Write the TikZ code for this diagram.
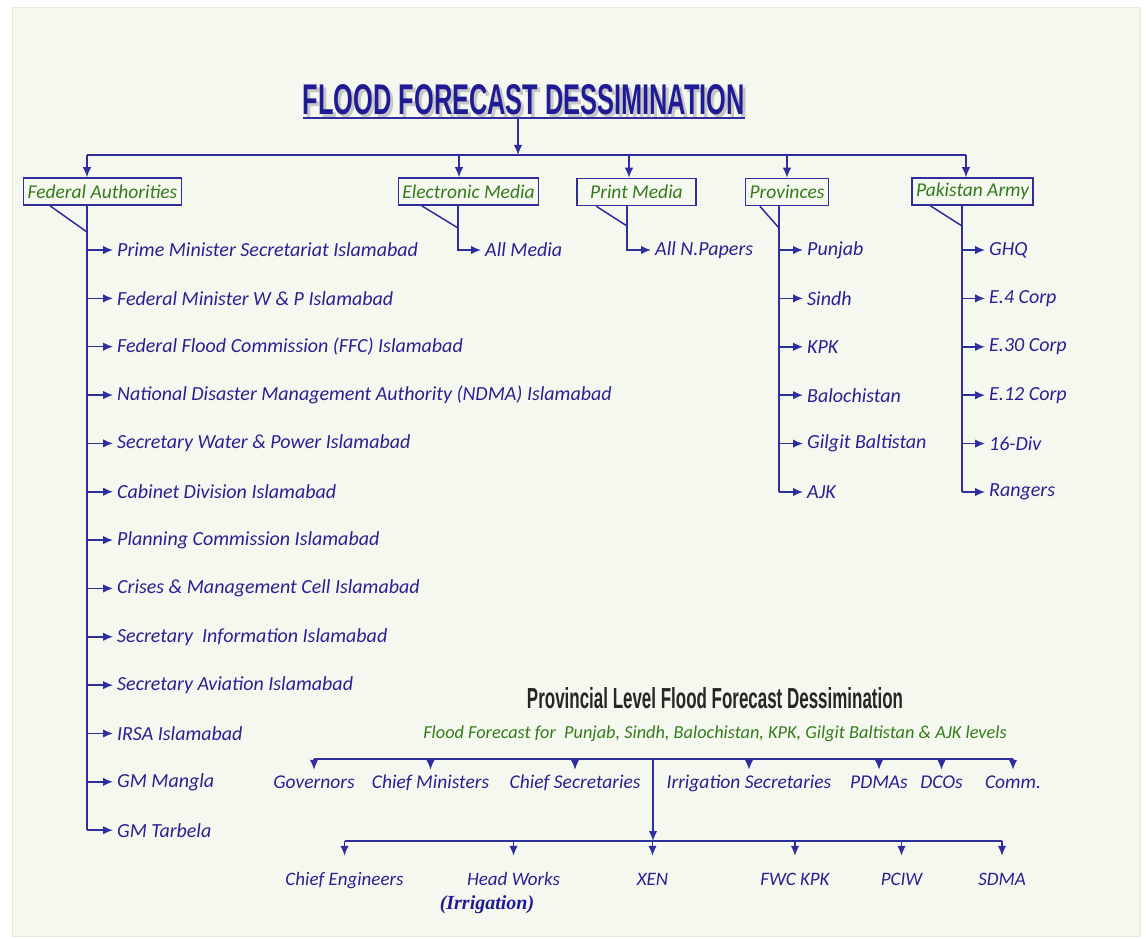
\documentclass[tikz,border=0pt]{standalone}
\usepackage{graphicx}
\usepackage{fontspec}
\setmainfont{Carlito}
\newfontfamily\headfont{Liberation Sans}
\newfontfamily\notefont{Liberation Serif}
\usetikzlibrary{arrows.meta,positioning,calc}
\definecolor{FFBlue}{HTML}{2E2E9E}
\definecolor{FFText}{HTML}{2A2093}
\definecolor{FFGreen}{HTML}{357A1C}
\definecolor{FFBack}{HTML}{F5F8EF}
\definecolor{FFEdge}{HTML}{E4ECD9}
\definecolor{FFTitle}{HTML}{1F1B95}

\begin{document}
\begin{tikzpicture}[x=1pt,y=-1pt,
  wire/.style={draw=FFBlue,line width=1.5pt},
  link/.style={wire,-{Latex[length=10pt,width=8.5pt]}},
  item/.style={anchor=west,inner xsep=4pt,inner ysep=1pt,text=FFText,
    font=\fontsize{20}{23}\selectfont\itshape},
  callbox/.style={draw=FFBlue,line width=1.5pt,fill=FFBack,text=FFGreen,
    inner xsep=4pt,inner ysep=0pt,minimum height=27pt,
    font=\fontsize{19.5}{22}\selectfont\itshape},
  rowlabel/.style={inner xsep=0pt,inner ysep=4pt,text height=14pt,text depth=4pt,
    text=FFText,font=\fontsize{19.5}{22}\selectfont\itshape},
  lowlabel/.style={rowlabel,inner ysep=15pt,font=\fontsize{19}{22}\selectfont\itshape}
]
% background
\fill[white] (0,0) rectangle (1146,939);
\filldraw[fill=FFBack,draw=FFEdge,line width=1pt] (12,8) rectangle (1140,936);

% title
\node[text=gray!45,inner xsep=0pt,inner ysep=3pt,anchor=south] (titleshadow) at (527,121)
  {\resizebox{442pt}{30pt}{\headfont\bfseries FLOOD FORECAST DESSIMINATION}};
\node[text=FFTitle,inner xsep=0pt,inner ysep=3pt,anchor=south] (title) at (524,118)
  {\resizebox{442pt}{30pt}{\headfont\bfseries FLOOD FORECAST DESSIMINATION}};
\draw[wire,line width=1.2pt] (title.south west) -- (title.south east);

% top level boxes
\node[callbox] (fa) at (102.5,191.5) {Federal Authorities};
\node[callbox] (em) at (468.5,191.5) {Electronic Media};
\node[callbox,minimum width=119pt] (pm) at (636.5,192) {Print Media};
\node[callbox] (pv) at (787,192) {Provinces};
\node[callbox] (pa) at (972.5,191.5) {Pakistan Army};

\coordinate (bus) at (518,155);
\coordinate (dFA) at (87,155);
\coordinate (dEM) at (459,155);
\coordinate (dPM) at (629,155);
\coordinate (dPV) at (787,155);
\coordinate (dPA) at (966,155);
\coordinate (faT) at (87,232);
\coordinate (emT) at (458,228);
\coordinate (pmT) at (627,226);
\coordinate (pvT) at (779,228);
\coordinate (paT) at (962,226);

\draw[link] (title.south -| bus) -- (bus);
\draw[wire] (dFA) -- (dPA);
\foreach \d/\n in {dFA/fa,dEM/em,dPM/pm,dPV/pv,dPA/pa}
  \draw[link] (\d) -- (\d |- \n.north);

% callout pointers
\draw[wire] ([xshift=27pt]fa.south west) -- (faT);
\draw[wire] ([xshift=24pt]em.south west) -- (emT);
\draw[wire] ([xshift=20pt]pm.south west) -- (pmT);
\draw[wire] ([xshift=15pt]pv.south west) -- (pvT);
\draw[wire] ([xshift=19pt]pa.south west) -- (paT);

% federal authorities
\foreach \txt [count=\i] in {Prime Minister Secretariat Islamabad,
    Federal Minister W \& P Islamabad,
    Federal Flood Commission (FFC) Islamabad,
    National Disaster Management Authority (NDMA) Islamabad,
    Secretary Water \& Power Islamabad,
    Cabinet Division Islamabad,
    Planning Commission Islamabad,
    Crises \& Management Cell Islamabad,
    Secretary\ \ Information Islamabad,
    Secretary Aviation Islamabad,
    IRSA Islamabad,
    GM Mangla,
    GM Tarbela} {
  \node[item] (fa\i) at (113,{250+(\i-1)*48.35}) {\txt};
  \draw[link] (faT |- fa\i) -- (fa\i.west);
}
\draw[wire] (faT |- fa.south) -- (faT |- fa13);

% media
\node[item] (em1) at (481,250) {All Media};
\draw[link] (emT |- em.south) |- (em1.west);
\node[item] (pm1) at (651,250) {All N.Papers};
\draw[link] (pmT |- pm.south) |- (pm1.west);

% provinces
\foreach \txt [count=\i] in {Punjab,Sindh,KPK,Balochistan,Gilgit Baltistan,AJK} {
  \node[item] (pv\i) at (803,{250+(\i-1)*48.4}) {\txt};
  \draw[link] (pvT |- pv\i) -- (pv\i.west);
}
\draw[wire] (pvT |- pv.south) -- (pvT |- pv6);

% army
\foreach \txt [count=\i] in {GHQ,E.4 Corp,E.30 Corp,E.12 Corp,16-Div,Rangers} {
  \node[item] (pa\i) at (985,{250+(\i-1)*48.4}) {\txt};
  \draw[link] (paT |- pa\i) -- (pa\i.west);
}
\draw[wire] (paT |- pa.south) -- (paT |- pa6);

% provincial level
\node[inner sep=0pt,text=black!85] (prov) at (715,698)
  {\resizebox{376pt}{21pt}{\headfont\bfseries Provincial Level Flood Forecast Dessimination}};
\node[inner sep=0pt,text=FFGreen,font=\fontsize{18.3}{21}\selectfont\itshape] (provsub) at (715,734)
  {Flood Forecast for\ \ Punjab, Sindh, Balochistan, KPK, Gilgit Baltistan \& AJK levels};

\coordinate (bus2) at (653,759);
\coordinate (bus3) at (653,841);

\node[rowlabel] (gov) at (314,783) {Governors};
\node[rowlabel] (cm) at (430.5,783) {Chief Ministers};
\node[rowlabel] (cs) at (575,783) {Chief Secretaries};
\node[rowlabel] (is) at (749,783) {Irrigation Secretaries};
\node[rowlabel] (pd) at (879,783) {PDMAs};
\node[rowlabel] (dc) at (941.5,783) {DCOs};
\node[rowlabel] (cmm) at (1013,783) {Comm.};
\draw[wire] (gov.north |- bus2) -- (cmm.north |- bus2);
\foreach \n in {gov,cm,cs,is,pd,dc,cmm}
  \draw[link] (\n.north |- bus2) -- (\n.north);

\draw[link] (bus2) -- (bus3);

\node[lowlabel] (ce) at (344.5,880) {Chief Engineers};
\node[lowlabel] (hw) at (513.5,880) {Head Works};
\node[lowlabel] (xen) at (652.5,880) {XEN};
\node[lowlabel] (fwc) at (795,880) {FWC KPK};
\node[lowlabel] (pciw) at (901.5,880) {PCIW};
\node[lowlabel] (sdma) at (1002,880) {SDMA};
\draw[wire] (ce.north |- bus3) -- (sdma.north |- bus3);
\foreach \n in {ce,hw,xen,fwc,pciw,sdma}
  \draw[link] (\n.north |- bus3) -- (\n.north);
\node[inner sep=0pt,text=FFTitle,font=\fontsize{20}{22}\notefont\bfseries\itshape] (irr) at (487,905) {(Irrigation)};
\end{tikzpicture}
\end{document}
